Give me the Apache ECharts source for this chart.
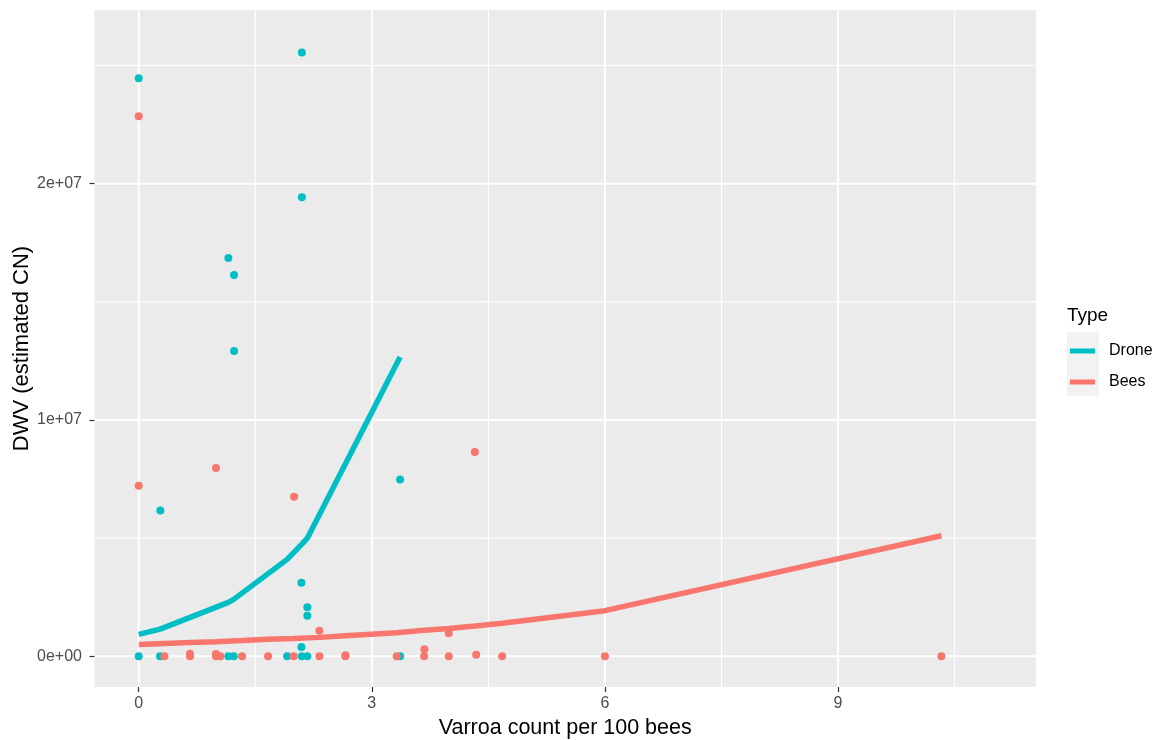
<!DOCTYPE html>
<html>
<head>
<meta charset="utf-8">
<script src="https://cdn.jsdelivr.net/npm/echarts@6/dist/echarts.min.js"></script>
<style>
  html, body { margin: 0; padding: 0; background: #ffffff; }
  #chart { width: 1157px; height: 740px; }
</style>
</head>
<body>
<div id="chart"></div>
<script>
// Observed samples: varroa count per 100 bees vs. DWV load (estimated copy number)
const droneX = [2.10, 0, 2.10, 1.154, 1.227, 1.227, 0.278, 3.364, 2.094, 2.17, 2.17, 2.094,
                0, 0.274, 1.154, 1.223, 1.91, 2.10, 2.17, 3.364];
const droneY = [2.555e7, 2.446e7, 1.943e7, 1.685e7, 1.614e7, 1.292e7, 6.17e6, 7.48e6, 3.11e6, 2.08e6, 1.72e6, 3.9e5,
                0, 0, 0, 0, 0, 0, 0, 0];

const beesX = [0, 0, 0.995, 2.0, 4.326, 2.325, 3.99, 3.677,
               0.33, 0.66, 0.66, 0.995, 0.995, 1.05, 1.33, 1.665, 1.995, 2.325, 2.66, 2.66,
               3.32, 3.673, 3.99, 4.343, 4.677, 6.0, 10.33];
const beesY = [2.285e7, 7.22e6, 7.97e6, 6.75e6, 8.64e6, 1.08e6, 9.7e5, 3.0e5,
               0, 1.1e5, 0, 1.0e5, 0, 0, 0, 0, 0, 0, 4e4, 0,
               0, 0, 0, 7e4, 0, 0, 0];

// Fitted trend per group, evaluated at the observed x values
const droneFitX = [0, 0.276, 1.154, 1.227, 1.91, 2.10, 2.17, 3.364];
const droneFitY = [9.3e5, 1.15e6, 2.28e6, 2.42e6, 4.10e6, 4.75e6, 5.00e6, 1.267e7];

const beesFitX = [0, 0.33, 0.66, 0.995, 1.05, 1.33, 1.665, 1.995, 2.325, 2.66, 3.32, 3.673, 3.99, 4.33, 4.677, 6.0, 10.33];
const beesFitY = [5.0e5, 5.4e5, 5.8e5, 6.2e5, 6.3e5, 6.7e5, 7.2e5, 7.5e5, 8.0e5, 8.7e5, 1.0e6, 1.1e6, 1.18e6, 1.28e6, 1.40e6, 1.93e6, 5.10e6];

// Axis breaks
const xMajor = [0, 3, 6, 9];
const xMinor = [1.5, 4.5, 7.5, 10.5];
const yMajor = [0, 1e7, 2e7];
const yMinor = [5e6, 1.5e7, 2.5e7];

const groupNames = ['Drone', 'Bees'];
const groupColors = ['#00BFC4', '#F8766D'];

const FONT = '"Liberation Sans", Arial, sans-serif';

function zip(xs, ys) { return xs.map((x, i) => [x, ys[i]]); }

// R-style scientific labels: 0e+00, 1e+07, 2e+07
function sciLabel(v) {
  if (v === 0) return '0e+00';
  const e = Math.floor(Math.log10(Math.abs(v)));
  const m = Math.round(v / Math.pow(10, e) * 100) / 100;
  return m + 'e' + (e >= 0 ? '+' : '-') + String(Math.abs(e)).padStart(2, '0');
}

// Panel grid lines: [axis, value, width]
const gridRows = []
  .concat(xMinor.map(v => ['x', v, 1.1]))
  .concat(yMinor.map(v => ['y', v, 1.1]))
  .concat(xMajor.map(v => ['x', v, 2]))
  .concat(yMajor.map(v => ['y', v, 2]));

function renderGridLine(params, api) {
  const row = gridRows[params.dataIndex];
  const cs = params.coordSys;
  const w = row[2];
  if (row[0] === 'x') {
    const px = api.coord([row[1], 0])[0];
    return { type: 'line', shape: { x1: px, y1: cs.y, x2: px, y2: cs.y + cs.height },
             style: { stroke: '#ffffff', lineWidth: w }, silent: true };
  }
  const py = api.coord([0, row[1]])[1];
  return { type: 'line', shape: { x1: cs.x, y1: py, x2: cs.x + cs.width, y2: py },
           style: { stroke: '#ffffff', lineWidth: w }, silent: true };
}

const chart = echarts.init(document.getElementById('chart'), null, { renderer: 'canvas' });

chart.setOption({
  animation: false,
  backgroundColor: '#ffffff',
  textStyle: { fontFamily: FONT },
  grid: {
    left: 94.5, right: 121, top: 10, bottom: 53,
    outerBoundsMode: 'none',
    containLabel: false,
    show: true, backgroundColor: '#EBEBEB', borderWidth: 0
  },
  xAxis: {
    type: 'value',
    min: -0.569, max: 11.548,
    name: 'Varroa count per 100 bees',
    nameLocation: 'middle',
    nameGap: 30,
    nameMoveOverlap: false,
    nameTextStyle: { fontFamily: FONT, fontSize: 21.5, color: '#000000' },
    axisLine: { show: false, onZero: false },
    splitLine: { show: false },
    axisTick: { show: true, length: 5, customValues: xMajor, lineStyle: { color: '#333333', width: 1.2 } },
    axisLabel: { customValues: xMajor, margin: 9, fontFamily: FONT, fontSize: 16, color: '#4D4D4D',
                 formatter: v => String(v) }
  },
  yAxis: {
    type: 'value',
    min: -1.30e6, max: 2.735e7,
    name: 'DWV (estimated CN)',
    nameLocation: 'middle',
    nameGap: 62,
    nameRotate: 90,
    nameMoveOverlap: false,
    nameTextStyle: { fontFamily: FONT, fontSize: 22, color: '#000000' },
    axisLine: { show: false, onZero: false },
    splitLine: { show: false },
    axisTick: { show: true, length: 5, customValues: yMajor, lineStyle: { color: '#333333', width: 1.2 } },
    axisLabel: { customValues: yMajor, margin: 12.5, fontFamily: FONT, fontSize: 16, color: '#4D4D4D',
                 formatter: sciLabel }
  },
  legend: {
    orient: 'vertical',
    left: 1065, top: 338,
    itemWidth: 25, itemHeight: 5,
    itemGap: 15,
    icon: 'rect',
    textStyle: { fontFamily: FONT, fontSize: 16, color: '#000000', lineHeight: 16, padding: [0, 0, 0, 9] },
    data: groupNames.map((n, i) => ({ name: n, itemStyle: { color: groupColors[i] } }))
  },
  graphic: [
    { type: 'rect', left: 1067, top: 332, shape: { width: 32, height: 64 },
      style: { fill: '#F2F2F2' }, z: -1, silent: true },
    { type: 'text', left: 1067, top: 306,
      style: { text: 'Type', font: '19px ' + FONT, fill: '#000000' }, silent: true }
  ],
  series: [
    {
      name: 'grid', type: 'custom', data: gridRows.map((r, i) => i), renderItem: renderGridLine,
      z: 0, silent: true, clip: false
    },
    {
      name: 'Drone', type: 'scatter', data: zip(droneX, droneY), symbolSize: 8,
      itemStyle: { color: groupColors[0], opacity: 1 }, z: 3
    },
    {
      name: 'Bees', type: 'scatter', data: zip(beesX, beesY), symbolSize: 8,
      itemStyle: { color: groupColors[1], opacity: 1 }, z: 3
    },
    {
      name: 'Drone', type: 'line', data: zip(droneFitX, droneFitY), showSymbol: false,
      lineStyle: { color: groupColors[0], width: 5.5, cap: 'butt' }, itemStyle: { color: groupColors[0] }, z: 4
    },
    {
      name: 'Bees', type: 'line', data: zip(beesFitX, beesFitY), showSymbol: false,
      lineStyle: { color: groupColors[1], width: 5.5, cap: 'butt' }, itemStyle: { color: groupColors[1] }, z: 4
    }
  ]
});
</script>
</body>
</html>
